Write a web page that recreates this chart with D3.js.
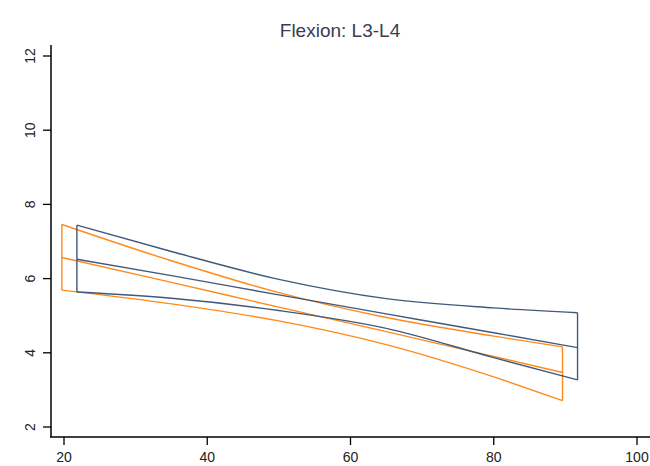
<!DOCTYPE html>
<html>
<head>
<meta charset="utf-8">
<script src="https://cdn.jsdelivr.net/npm/d3@7/dist/d3.min.js"></script>
<style>
  body { margin: 0; background: #fff; }
  svg { display: block; font-family: "Liberation Sans", Arial, sans-serif; }
</style>
</head>
<body>
<svg width="650" height="466"></svg>
<script>
const width = 650, height = 466

// tick labels
const xTicks = [20, 40, 60, 80, 100]
const yTicks = [2, 4, 6, 8, 10, 12]

// blue group: age points with fit and its band
const blueX = [21.8, 35, 50, 65, 80, 91.7]
const blueMean = [6.52, 6.08, 5.56, 5.05, 4.54, 4.14]
const blueUpper = [7.44, 6.73, 5.98, 5.46, 5.21, 5.08]
const blueLower = [5.64, 5.47, 5.14, 4.66, 3.87, 3.27]

// orange group
const orangeX = [19.7, 35, 50, 65, 80, 89.6]
const orangeMean = [6.57, 5.90, 5.23, 4.57, 3.90, 3.47]
const orangeUpper = [7.46, 6.48, 5.62, 4.95, 4.45, 4.16]
const orangeLower = [5.69, 5.32, 4.86, 4.22, 3.35, 2.71]

const svg = d3.select("svg")

const x = d3.scaleLinear().domain([20, 100]).range([64, 637])
const y = d3.scaleLinear().domain([2, 12]).range([427, 56])

// title
svg.append("text")
    .attr("x", 340).attr("y", 37)
    .attr("text-anchor", "middle")
    .attr("font-size", 19)
    .attr("fill", "#3a3d4f")
    .text("Flexion: L3-L4")

// axes
const yAxis = svg.append("g")
    .attr("transform", "translate(51,0)")
yAxis.append("line").attr("y1", 45).attr("y2", 437).attr("stroke", "#000").attr("stroke-width", 1.5)
yAxis.selectAll(".tick").data(yTicks).join("line")
    .attr("x1", -8).attr("x2", 0)
    .attr("y1", d => y(d)).attr("y2", d => y(d))
    .attr("stroke", "#000").attr("stroke-width", 1.3)
yAxis.selectAll("text").data(yTicks).join("text")
    .attr("transform", d => `translate(-16,${y(d)}) rotate(-90)`)
    .attr("text-anchor", "middle")
    .attr("font-size", 14)
    .attr("fill", "#222")
    .text(d => d)

const xAxis = svg.append("g")
    .attr("transform", "translate(0,437)")
xAxis.append("line").attr("x1", 50).attr("x2", 650).attr("stroke", "#000").attr("stroke-width", 1.5)
xAxis.selectAll(".tick").data(xTicks).join("line")
    .attr("x1", d => x(d)).attr("x2", d => x(d))
    .attr("y1", 0).attr("y2", 8)
    .attr("stroke", "#000").attr("stroke-width", 1.3)
xAxis.selectAll("text").data(xTicks).join("text")
    .attr("x", d => x(d)).attr("y", 25)
    .attr("text-anchor", "middle")
    .attr("font-size", 14)
    .attr("fill", "#222")
    .text(d => d)

// band outline + fit line for one group
function drawGroup(xs, mean, upper, lower, color) {
    const line = d3.line()
        .x(d => x(d[0])).y(d => y(d[1]))
        .curve(d3.curveMonotoneX)
    const up = xs.map((v, i) => [v, upper[i]])
    const lo = xs.map((v, i) => [v, lower[i]])
    const n = xs.length - 1
    const g = svg.append("g")
        .attr("fill", "none")
        .attr("stroke", color)
        .attr("stroke-width", 1.4)
    g.append("path").attr("d", line(up))
    g.append("path").attr("d", line(lo))
    g.append("path").attr("d", line(xs.map((v, i) => [v, mean[i]])))
    // closing verticals
    g.append("line")
        .attr("x1", x(xs[0])).attr("x2", x(xs[0]))
        .attr("y1", y(upper[0])).attr("y2", y(lower[0]))
    g.append("line")
        .attr("x1", x(xs[n])).attr("x2", x(xs[n]))
        .attr("y1", y(upper[n])).attr("y2", y(lower[n]))
}

drawGroup(orangeX, orangeMean, orangeUpper, orangeLower, "#ff8a1c")
drawGroup(blueX, blueMean, blueUpper, blueLower, "#40597d")
</script>
</body>
</html>
